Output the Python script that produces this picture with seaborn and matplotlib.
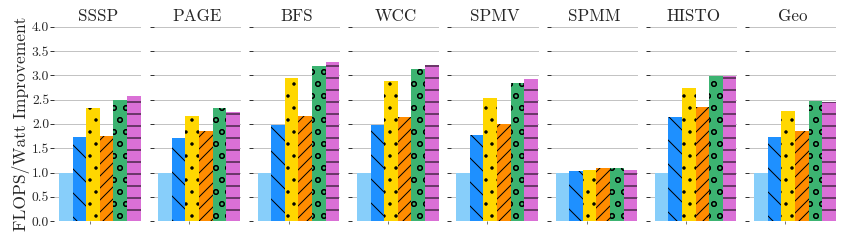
import numpy as np
import pandas as pd
import matplotlib
matplotlib.use("Agg")
import matplotlib.pyplot as plt
import seaborn as sns

# benchmarks (one panel each) and the six configurations per panel
benchmarks = ["SSSP", "PAGE", "BFS", "WCC", "SPMV", "SPMM", "HISTO", "Geo"]
configs = ["base", "cfg1", "cfg2", "cfg3", "cfg4", "cfg5"]

base = [1.0, 1.0, 1.0, 1.0, 1.0, 1.0, 1.0, 1.0]
cfg1 = [1.73, 1.71, 1.98, 1.97, 1.77, 1.04, 2.14, 1.73]
cfg2 = [2.33, 2.17, 2.94, 2.88, 2.53, 1.05, 2.74, 2.27]
cfg3 = [1.75, 1.85, 2.16, 2.14, 2.00, 1.10, 2.35, 1.85]
cfg4 = [2.50, 2.33, 3.20, 3.14, 2.85, 1.10, 2.99, 2.47]
cfg5 = [2.57, 2.24, 3.27, 3.21, 2.92, 1.05, 2.98, 2.46]

colors = ["#87CEFA", "#1E90FF", "#FFD700", "#FF8C00", "#3CB371", "#DA70D6"]
hatches = ["", "\\", ".", "//", "o", "-"]

rows = []
for cfg, vals in zip(configs, [base, cfg1, cfg2, cfg3, cfg4, cfg5]):
    for b, v in zip(benchmarks, vals):
        rows.append({"bench": b, "config": cfg, "value": v})
df = pd.DataFrame(rows)

sns.set_style("whitegrid")
plt.rcParams["font.family"] = "serif"
plt.rcParams["font.serif"] = ["cmr10"]
plt.rcParams["mathtext.fontset"] = "cm"
plt.rcParams["axes.formatter.use_mathtext"] = True
plt.rcParams["hatch.linewidth"] = 1.0
plt.rcParams["hatch.color"] = "black"

fig, axes = plt.subplots(1, len(benchmarks), sharey=True,
                         figsize=(847 / 72, 243 / 72), dpi=72)
fig.subplots_adjust(left=0.064, right=0.9876, bottom=0.09, top=0.89, wspace=0.141)

bw = 0.8 / len(configs)
for ax, b in zip(axes, benchmarks):
    sub = df[df["bench"] == b]
    sns.barplot(data=sub, x="bench", y="value", hue="config", hue_order=configs,
                palette=colors, saturation=1, width=0.8, ax=ax, legend=False,
                edgecolor="black", linewidth=0)
    for patch, h in zip(ax.patches, hatches):
        patch.set_hatch(h)
        patch.set_edgecolor("black")
        patch.set_linewidth(0)
    ax.set_title(b, fontsize=17, pad=6)
    ax.set_xlabel("")
    ax.set_ylabel("")
    ax.set_xlim(-0.4 - 0.35 * bw, 0.4 + 0.05 * bw)
    ax.set_xticks([-0.4 + 2.28 * bw])
    ax.set_xticklabels([""])
    ax.set_ylim(0, 4.0)
    ax.set_yticks(np.arange(0, 4.01, 0.5))
    ax.grid(axis="y", color="#bdbdbd", linewidth=0.9)
    ax.grid(axis="x", visible=False)
    ax.set_axisbelow(True)
    for s in ax.spines.values():
        s.set_visible(False)
    ax.tick_params(axis="y", left=True, length=4, width=1, color="#333333",
                   pad=1, labelsize=13.5)
    ax.tick_params(axis="x", bottom=True, length=3, width=0.8, color="#555555")

axes[0].set_ylabel("FLOPS/Watt Improvement", fontsize=17.5, labelpad=2)
axes[0].yaxis.set_major_formatter(matplotlib.ticker.FormatStrFormatter("%.1f"))
for ax in axes[1:]:
    ax.tick_params(axis="y", labelleft=False)

fig.savefig("out.png", dpi=72)
